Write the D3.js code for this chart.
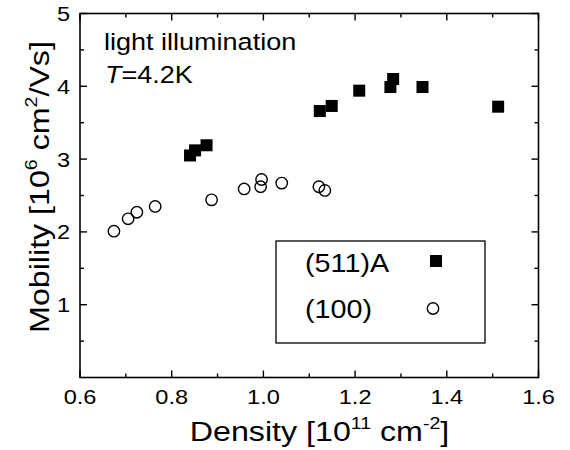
<!DOCTYPE html>
<html>
<head>
<meta charset="utf-8">
<script src="https://cdn.jsdelivr.net/npm/d3@7/dist/d3.min.js"></script>
<style>
  html, body { margin: 0; padding: 0; background: #fff; }
  svg { display: block; font-family: "Liberation Sans", Arial, Helvetica, sans-serif; }
</style>
</head>
<body>
<svg id="chart" width="570" height="450"></svg>
<script>
// ---- data ----
const densityA = [0.840, 0.851, 0.876, 1.123, 1.149, 1.209, 1.277, 1.283, 1.347, 1.512];
const mobilityA = [3.05, 3.12, 3.19, 3.66, 3.73, 3.94, 3.99, 4.10, 3.99, 3.72];
const density100 = [0.674, 0.705, 0.724, 0.764, 0.887, 0.958, 0.996, 0.994, 1.040, 1.121, 1.134];
const mobility100 = [2.01, 2.18, 2.27, 2.35, 2.44, 2.59, 2.72, 2.62, 2.67, 2.62, 2.57];
const xTicks = [0.6, 0.8, 1.0, 1.2, 1.4, 1.6];
const xTickLabels = ["0.6", "0.8", "1.0", "1.2", "1.4", "1.6"];
const yTicks = [1, 2, 3, 4, 5];
const yTickLabels = ["1", "2", "3", "4", "5"];
const seriesNames = ["(511)A", "(100)"];

const svg = d3.select("#chart");
const L = 80, R = 538.5, T = 13.5, B = 377.5;
const x = d3.scaleLinear().domain([0.6, 1.6]).range([L, R]);
const y = d3.scaleLinear().domain([0, 5]).range([B, T]);
const SX = 1.15; // horizontal stretch of the scanned lettering

function label(parent, px, py, size, anchor, rot) {
  return parent.append("text")
    .attr("transform", `translate(${px},${py})${rot ? ` rotate(${rot})` : ""} scale(${SX},1)`)
    .attr("font-size", size).attr("text-anchor", anchor || "start");
}

const majorLen = 7, minorLen = 4;
const xMinor = d3.range(0.7, 1.6, 0.2);
const yMinor = d3.range(0.5, 5, 1);

// frame
svg.append("rect").attr("x", L).attr("y", T).attr("width", R - L).attr("height", B - T)
  .attr("fill", "none").attr("stroke", "#000").attr("stroke-width", 1.6);

const tk = svg.append("g").attr("stroke", "#000").attr("stroke-width", 1.4);
xTicks.forEach(v => {
  tk.append("line").attr("x1", x(v)).attr("x2", x(v)).attr("y1", B).attr("y2", B - majorLen);
  tk.append("line").attr("x1", x(v)).attr("x2", x(v)).attr("y1", T).attr("y2", T + majorLen);
});
xMinor.forEach(v => {
  tk.append("line").attr("x1", x(v)).attr("x2", x(v)).attr("y1", B).attr("y2", B - minorLen);
  tk.append("line").attr("x1", x(v)).attr("x2", x(v)).attr("y1", T).attr("y2", T + minorLen);
});
yTicks.forEach(v => {
  tk.append("line").attr("y1", y(v)).attr("y2", y(v)).attr("x1", L).attr("x2", L + majorLen);
  tk.append("line").attr("y1", y(v)).attr("y2", y(v)).attr("x1", R).attr("x2", R - majorLen);
});
yMinor.forEach(v => {
  tk.append("line").attr("y1", y(v)).attr("y2", y(v)).attr("x1", L).attr("x2", L + minorLen);
  tk.append("line").attr("y1", y(v)).attr("y2", y(v)).attr("x1", R).attr("x2", R - minorLen);
});

// tick labels
const tickFont = 20.5;
xTicks.forEach((v, i) => label(svg, x(v), 403.5, tickFont, "middle").text(xTickLabels[i]));
yTicks.forEach((v, i) => label(svg, L - 10, y(v) + 7.5, tickFont, "end").text(yTickLabels[i]));

// axis titles
const titleFont = 28, supFont = 17, supShift = 12;
const xt = label(svg, 319.5, 441, titleFont, "middle");
xt.append("tspan").text("Density [10");
xt.append("tspan").attr("font-size", supFont).attr("dy", -supShift).text("11");
xt.append("tspan").attr("dy", supShift).text(" cm");
xt.append("tspan").attr("font-size", supFont).attr("dy", -supShift).text("-2");
xt.append("tspan").attr("dy", supShift).text("]");

const yt = label(svg, 49, 187, titleFont, "middle", -90);
yt.append("tspan").text("Mobility [10");
yt.append("tspan").attr("font-size", supFont).attr("dy", -supShift).text("6");
yt.append("tspan").attr("dy", supShift).text(" cm");
yt.append("tspan").attr("font-size", supFont).attr("dy", -supShift).text("2");
yt.append("tspan").attr("dy", supShift).text("/Vs]");

// annotations
label(svg, 104, 49.5, 23.5, "start").text("light illumination");
const ann = label(svg, 105, 83, 23.5, "start");
ann.append("tspan").attr("font-style", "italic").text("T");
ann.append("tspan").text("=4.2K");

// data points
const sq = 12;
svg.append("g").selectAll("rect").data(densityA.map((d, i) => [d, mobilityA[i]])).join("rect")
  .attr("x", d => x(d[0]) - sq / 2).attr("y", d => y(d[1]) - sq / 2)
  .attr("width", sq).attr("height", sq).attr("fill", "#000");
svg.append("g").selectAll("circle").data(density100.map((d, i) => [d, mobility100[i]])).join("circle")
  .attr("cx", d => x(d[0])).attr("cy", d => y(d[1])).attr("r", 5.7)
  .attr("fill", "none").attr("stroke", "#000").attr("stroke-width", 1.4);

// legend
const lg = svg.append("g");
lg.append("rect").attr("x", 276).attr("y", 241).attr("width", 209).attr("height", 102)
  .attr("fill", "#fff").attr("stroke", "#000").attr("stroke-width", 1.3);
label(lg, 305, 272, 25, "start").text(seriesNames[0]);
label(lg, 305, 317.5, 25, "start").text(seriesNames[1]);
lg.append("rect").attr("x", 436 - 6).attr("y", 261 - 6).attr("width", 12).attr("height", 12).attr("fill", "#000");
lg.append("circle").attr("cx", 433).attr("cy", 308.5).attr("r", 5.7)
  .attr("fill", "none").attr("stroke", "#000").attr("stroke-width", 1.4);
</script>
</body>
</html>
